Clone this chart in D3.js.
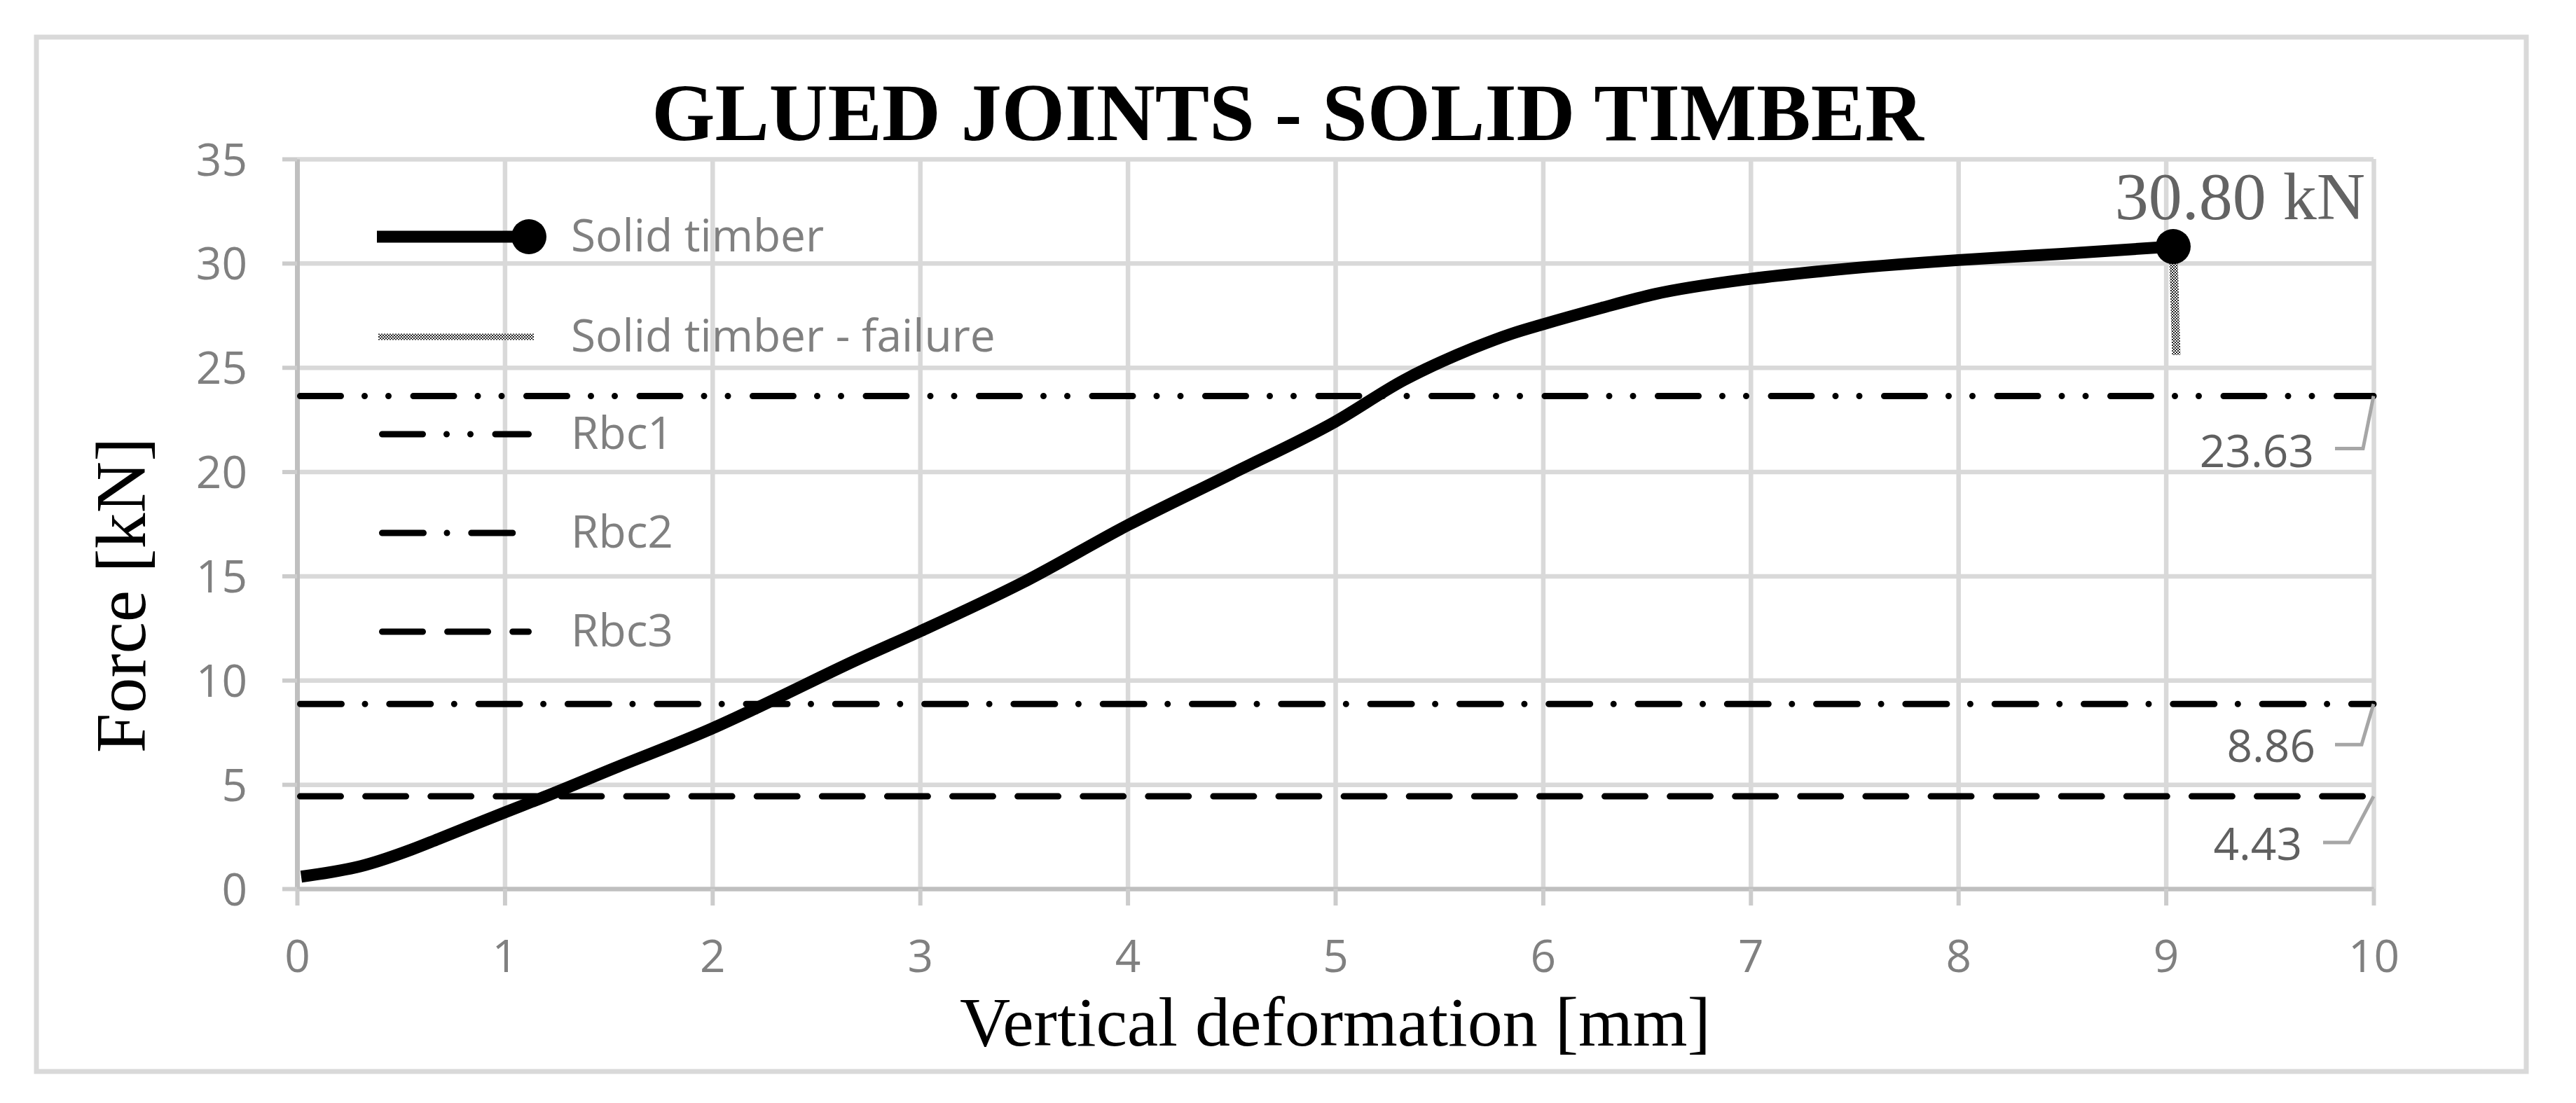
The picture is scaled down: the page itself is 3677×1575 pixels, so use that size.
<!DOCTYPE html>
<html>
<head>
<meta charset="utf-8">
<script src="https://cdn.jsdelivr.net/npm/d3@7"></script>
<style>
  html, body { margin: 0; padding: 0; background: #ffffff; }
  svg { display: block; }
</style>
</head>
<body>
<script>
// ---------------- DATA ----------------
const deformation = [0.02, 0.33, 0.55, 0.68, 1.00, 1.19, 1.53, 2.00, 2.22, 2.69, 3.00, 3.49, 4.00, 4.50, 5.00, 5.33, 5.67, 5.85, 6.00, 6.28, 6.54, 7.00, 7.34, 8.00, 8.50, 9.035];
const force       = [0.58, 1.14, 1.87, 2.38, 3.66, 4.40, 5.79, 7.69, 8.70, 10.95, 12.34, 14.66, 17.43, 19.90, 22.40, 24.39, 25.95, 26.62, 27.07, 27.85, 28.52, 29.25, 29.62, 30.15, 30.45, 30.80];
const failureX = [9.035, 9.05];
const failureY = [30.80, 25.60];
const rbcNames  = ["Rbc1", "Rbc2", "Rbc3"];
const rbcValues = [23.63, 8.86, 4.43];
const xTicks = [0, 1, 2, 3, 4, 5, 6, 7, 8, 9, 10];
const yTicks = [0, 5, 10, 15, 20, 25, 30, 35];
const legendLabels = ["Solid timber", "Solid timber - failure", "Rbc1", "Rbc2", "Rbc3"];
const titleText = "GLUED JOINTS - SOLID TIMBER";
const xTitle = "Vertical deformation [mm]";
const yTitle = "Force [kN]";
const peakLabel = "30.80 kN";

// ---------------- LAYOUT / STYLE ----------------
const W = 3677, H = 1575;
const plot = { left: 424, right: 3388, top: 227, bottom: 1269 };
const sansFont = "'Open Sans', 'Noto Sans', sans-serif";
const serifFont = "'Liberation Serif', 'Times New Roman', serif";
const tickFs = 64;
const rbcDash = ["58 34 0 34 0 35.5", "59 33.5 0 34.8", "58 35.1"];
// leader geometry per Rbc label: [dxMid, dyMid, dxEnd, textRight, baselineBelow]
const leaderGeom = [
  { mx: -15, my: 75, ex: -55, tx: -85, ty: 26 },
  { mx: -17, my: 58, ex: -55, tx: -83, ty: 25 },
  { mx: -35, my: 66, ex: -72, tx: -102, ty: 25 }
];

const svg = d3.select("body").append("svg")
  .attr("width", W).attr("height", H)
  .attr("viewBox", `0 0 ${W} ${H}`);

const defs = svg.append("defs");
const pat = defs.append("pattern").attr("id", "hatch")
  .attr("patternUnits", "userSpaceOnUse").attr("width", 4).attr("height", 4);
pat.append("rect").attr("width", 4).attr("height", 4).attr("fill", "#ffffff");
pat.append("rect").attr("width", 2).attr("height", 2).attr("fill", "#222222");
pat.append("rect").attr("x", 2).attr("y", 2).attr("width", 2).attr("height", 2).attr("fill", "#222222");

// background + chart border
svg.append("rect").attr("width", W).attr("height", H).attr("fill", "#ffffff");
svg.append("rect").attr("x", 52).attr("y", 53).attr("width", 3606 - 52).attr("height", 1530 - 53)
  .attr("fill", "none").attr("stroke", "#d9d9d9").attr("stroke-width", 7);

const x = d3.scaleLinear().domain([0, 10]).range([plot.left, plot.right]);
const y = d3.scaleLinear().domain([0, 35]).range([plot.bottom, plot.top]);

// gridlines
const gx = svg.append("g").attr("transform", `translate(0,${plot.bottom})`)
  .call(d3.axisBottom(x).tickValues(xTicks).tickSize(-(plot.bottom - plot.top)).tickSizeOuter(0).tickFormat(""));
gx.select(".domain").remove();
gx.selectAll("line").attr("stroke", "#d9d9d9").attr("stroke-width", 6.5);

const gy = svg.append("g").attr("transform", `translate(${plot.left},0)`)
  .call(d3.axisLeft(y).tickValues(yTicks).tickSize(-(plot.right - plot.left)).tickSizeOuter(0).tickFormat(""));
gy.select(".domain").remove();
gy.selectAll("line").attr("stroke", "#d9d9d9").attr("stroke-width", 6.5);

// x axis
const ax = svg.append("g").attr("transform", `translate(0,${plot.bottom})`)
  .call(d3.axisBottom(x).tickValues(xTicks).tickSize(24).tickSizeOuter(0).tickPadding(50).tickFormat(d3.format("d")));
ax.select(".domain").attr("stroke", "#bfbfbf").attr("stroke-width", 6);
ax.selectAll(".tick line").attr("stroke", "#cccccc").attr("stroke-width", 6);
ax.selectAll(".tick text").attr("fill", "#808080").attr("font-family", sansFont).attr("font-size", tickFs);

// y axis
const ay = svg.append("g").attr("transform", `translate(${plot.left},0)`)
  .call(d3.axisLeft(y).tickValues(yTicks).tickSize(21).tickSizeOuter(0).tickPadding(50).tickFormat(d3.format("d")));
ay.select(".domain").attr("stroke", "#bfbfbf").attr("stroke-width", 7);
ay.selectAll(".tick line").attr("stroke", "#cccccc").attr("stroke-width", 6);
ay.selectAll(".tick text").attr("fill", "#808080").attr("font-family", sansFont).attr("font-size", tickFs).attr("dy", "0.36em");

// Rbc horizontal lines
rbcValues.forEach((v, i) => {
  svg.append("line")
    .attr("x1", x(0) + 4.5).attr("x2", x(10)).attr("y1", y(v)).attr("y2", y(v))
    .attr("stroke", "#000").attr("stroke-width", 9).attr("stroke-linecap", "round")
    .attr("stroke-dasharray", rbcDash[i]);
});

// Rbc labels with leader lines
rbcValues.forEach((v, i) => {
  const g = leaderGeom[i];
  const x0 = x(10), y0 = y(v);
  svg.append("polyline")
    .attr("points", `${x0},${y0} ${x0 + g.mx},${y0 + g.my} ${x0 + g.ex},${y0 + g.my}`)
    .attr("fill", "none").attr("stroke", "#a6a6a6").attr("stroke-width", 5);
  svg.append("text")
    .attr("x", x0 + g.tx).attr("y", y0 + g.my + g.ty)
    .attr("text-anchor", "end").attr("font-family", sansFont).attr("font-size", tickFs)
    .attr("fill", "#606060").text(v.toFixed(2));
});

// main curve
const pts = deformation.map((d, i) => [d, force[i]]);
const line = d3.line().x(d => x(d[0])).y(d => y(d[1])).curve(d3.curveMonotoneX);
svg.append("path").datum(pts).attr("d", line)
  .attr("fill", "none").attr("stroke", "#000").attr("stroke-width", 17)
  .attr("stroke-linejoin", "round");

// failure line
const fpts = failureX.map((d, i) => [d, failureY[i]]);
svg.append("path").datum(fpts).attr("d", d3.line().x(d => x(d[0])).y(d => y(d[1])))
  .attr("fill", "none").attr("stroke", "url(#hatch)").attr("stroke-width", 12);

// marker at last point
const last = pts[pts.length - 1];
svg.append("circle").attr("cx", x(last[0])).attr("cy", y(last[1])).attr("r", 25).attr("fill", "#000");

// peak label
svg.append("text")
  .attr("x", x(last[0]) + 274).attr("y", y(last[1]) - 39)
  .attr("text-anchor", "end").attr("font-family", serifFont).attr("font-size", 96)
  .attr("fill", "#636363").text(peakLabel);

// title
svg.append("text").attr("x", 1838).attr("y", 200).attr("text-anchor", "middle")
  .attr("font-family", serifFont).attr("font-weight", "bold").attr("font-size", 116)
  .attr("fill", "#000").text(titleText);

// axis titles
svg.append("text").attr("x", (plot.left + plot.right) / 2).attr("y", 1493).attr("text-anchor", "middle")
  .attr("font-family", serifFont).attr("font-size", 100).attr("fill", "#000").text(xTitle);
svg.append("text").attr("transform", "translate(207,850) rotate(-90)").attr("text-anchor", "middle")
  .attr("font-family", serifFont).attr("font-size", 102).attr("fill", "#000").text(yTitle);

// legend
const legY = [338, 481, 620, 761, 902];
const lx1 = 541, lx2 = 759, ltx = 815;
const leg = svg.append("g");
legendLabels.forEach((lab, i) => {
  const yy = legY[i];
  if (i === 0) {
    leg.append("line").attr("x1", 538).attr("x2", 755).attr("y1", yy).attr("y2", yy)
      .attr("stroke", "#000").attr("stroke-width", 17);
    leg.append("circle").attr("cx", 755).attr("cy", yy).attr("r", 25).attr("fill", "#000");
  } else if (i === 1) {
    leg.append("line").attr("x1", 540).attr("x2", 762).attr("y1", yy).attr("y2", yy)
      .attr("stroke", "url(#hatch)").attr("stroke-width", 9);
  } else {
    leg.append("line").attr("x1", lx1 + 4.5).attr("x2", lx2 - 4.5).attr("y1", yy).attr("y2", yy)
      .attr("stroke", "#000").attr("stroke-width", 9).attr("stroke-linecap", "round")
      .attr("stroke-dasharray", rbcDash[i - 2]);
  }
  leg.append("text").attr("x", ltx).attr("y", yy + 21)
    .attr("font-family", sansFont).attr("font-size", tickFs).attr("fill", "#808080").text(lab);
});
</script>
</body>
</html>
